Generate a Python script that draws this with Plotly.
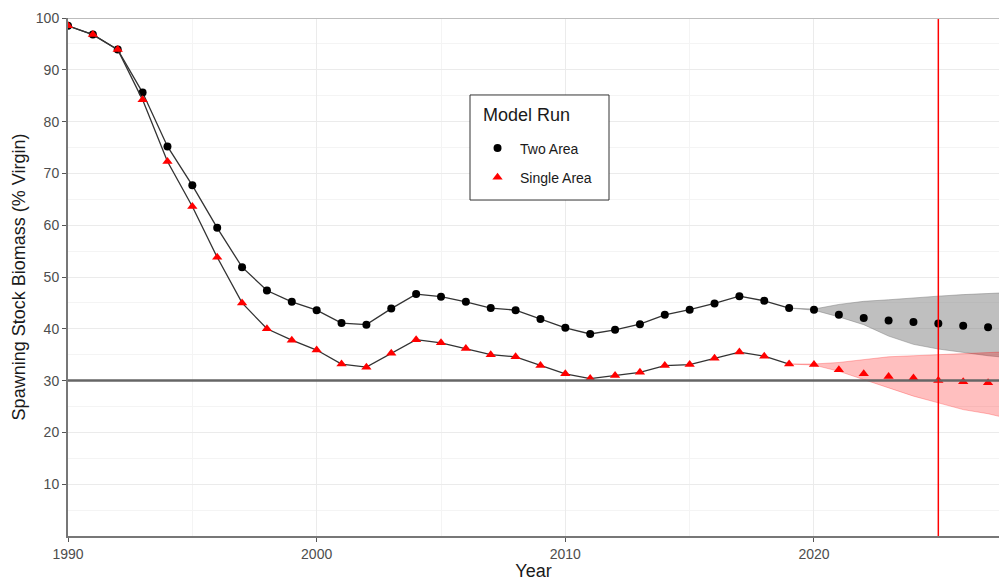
import plotly.graph_objects as go

years_hist = list(range(1990, 2020))
two_area_hist = [98.5, 96.8, 93.9, 85.6, 75.2, 67.7, 59.5, 51.9, 47.4, 45.2,
                 43.6, 41.1, 40.8, 43.9, 46.7, 46.2, 45.2, 44.0, 43.6, 41.9,
                 40.2, 39.0, 39.8, 40.9, 42.7, 43.7, 44.9, 46.3, 45.4, 44.0]
single_area_hist = [98.5, 96.8, 93.9, 84.2, 72.3, 63.6, 53.8, 45.0, 40.0, 37.8,
                    35.9, 33.2, 32.6, 35.3, 37.9, 37.3, 36.2, 35.0, 34.6, 32.9,
                    31.3, 30.4, 31.0, 31.6, 32.9, 33.1, 34.3, 35.5, 34.7, 33.2]

years_proj = [2020, 2021, 2022, 2023, 2024, 2025, 2026, 2027]
two_area_proj = [43.7, 42.7, 42.1, 41.6, 41.3, 41.0, 40.6, 40.3]
single_area_proj = [33.1, 32.1, 31.3, 30.8, 30.5, 30.0, 29.8, 29.6]

band_years = [2019, 2020, 2021, 2022, 2023, 2024, 2025, 2026, 2027, 2027.44]
two_area_upper = [44.0, 43.8, 44.7, 45.3, 45.6, 46.0, 46.3, 46.6, 46.8, 46.9]
two_area_lower = [44.0, 43.6, 42.3, 40.8, 38.6, 37.0, 36.1, 35.4, 34.8, 34.6]
single_area_upper = [33.2, 33.2, 33.5, 34.0, 34.6, 34.8, 35.0, 35.2, 35.4, 35.5]
single_area_lower = [33.2, 33.0, 31.8, 30.2, 28.6, 27.0, 25.7, 24.4, 23.6, 23.1]

reference_level = 30
projection_year = 2025

x_ticks = [1990, 2000, 2010, 2020]
y_ticks = [10, 20, 30, 40, 50, 60, 70, 80, 90, 100]

legend_title = "Model Run"

GREY_BAND = "rgba(128,128,128,0.5)"
RED_BAND = "rgba(255,0,0,0.25)"
LINE_COL = "#333333"

fig = go.Figure()

# uncertainty bands
fig.add_trace(go.Scatter(x=band_years, y=two_area_lower, mode="lines",
                         line=dict(color=GREY_BAND, width=1), showlegend=False, hoverinfo="skip"))
fig.add_trace(go.Scatter(x=band_years, y=two_area_upper, mode="lines", fill="tonexty",
                         fillcolor=GREY_BAND, line=dict(color=GREY_BAND, width=1),
                         showlegend=False, hoverinfo="skip"))
fig.add_trace(go.Scatter(x=band_years, y=single_area_lower, mode="lines",
                         line=dict(color=RED_BAND, width=1), showlegend=False, hoverinfo="skip"))
fig.add_trace(go.Scatter(x=band_years, y=single_area_upper, mode="lines", fill="tonexty",
                         fillcolor=RED_BAND, line=dict(color=RED_BAND, width=1),
                         showlegend=False, hoverinfo="skip"))

# historical lines with markers
fig.add_trace(go.Scatter(x=years_hist, y=two_area_hist, mode="lines+markers",
                         line=dict(color=LINE_COL, width=1.3),
                         marker=dict(symbol="circle", size=8, color="black"),
                         showlegend=False))
fig.add_trace(go.Scatter(x=years_hist, y=single_area_hist, mode="lines+markers",
                         line=dict(color=LINE_COL, width=1.3),
                         marker=dict(symbol="triangle-up", size=9, color="red"),
                         showlegend=False))

# projection points
fig.add_trace(go.Scatter(x=years_proj, y=two_area_proj, mode="markers",
                         marker=dict(symbol="circle", size=8, color="black"),
                         name="Two Area", legendgroup="a"))
fig.add_trace(go.Scatter(x=years_proj, y=single_area_proj, mode="markers",
                         marker=dict(symbol="triangle-up", size=9, color="red"),
                         name="Single Area", legendgroup="b"))

# reference lines
fig.add_hline(y=reference_level, line=dict(color="#666666", width=2.5))
fig.add_vline(x=projection_year, line=dict(color="red", width=1.5))
# top panel border
fig.add_shape(type="line", xref="paper", yref="y", x0=0, x1=1, y0=100, y1=100,
              line=dict(color="#bdbdbd", width=2))
# legend frame and title
fig.add_shape(type="rect", xref="paper", yref="paper",
              x0=0.4318, x1=0.5811, y0=0.6486, y1=0.8514,
              line=dict(color="#333333", width=1), fillcolor="white", layer="above")
fig.add_annotation(text=legend_title, xref="paper", yref="paper", x=0.4436, y=0.8127,
                   xanchor="left", yanchor="middle", showarrow=False,
                   font=dict(size=18, color="#1a1a1a"))

fig.update_layout(
    width=999, height=581,
    margin=dict(l=68, r=0, t=18, b=45),
    paper_bgcolor="white", plot_bgcolor="white",
    font=dict(family="Liberation Sans, Arial, sans-serif", color="black"),
    showlegend=True,
    legend=dict(
        x=0.4372, y=0.779, xanchor="left", yanchor="top",
        bgcolor="rgba(0,0,0,0)", borderwidth=0,
        font=dict(size=14, color="#1a1a1a"),
        tracegroupgap=8, traceorder="grouped", itemwidth=35,
    ),
    xaxis=dict(
        range=[1990, 2027.44], tickvals=x_ticks, showgrid=True, gridcolor="#ebebeb",
        gridwidth=1, minor=dict(dtick=5, tick0=1990, showgrid=True, gridcolor="#f4f4f4"),
        zeroline=False, showline=True, linecolor="#777777", linewidth=2,
        ticks="outside", ticklen=4, tickcolor="#555555",
        tickfont=dict(size=14, color="#4d4d4d"),
        title=dict(text="Year", font=dict(size=18, color="#1a1a1a"), standoff=4),
    ),
    yaxis=dict(
        range=[0, 100], tickvals=y_ticks, showgrid=True, gridcolor="#ebebeb",
        minor=dict(dtick=5, tick0=0, showgrid=True, gridcolor="#f4f4f4"),
        zeroline=False, showline=True, linecolor="#777777", linewidth=2,
        ticks="outside", ticklen=4, tickcolor="#555555",
        tickfont=dict(size=14, color="#4d4d4d"),
        title=dict(text="Spawning Stock Biomass (% Virgin)", font=dict(size=18, color="#1a1a1a"),
                   standoff=6),
    ),
)

fig.write_html("out.html", config={"displayModeBar": False},
               post_script="document.body.style.margin='0';")
